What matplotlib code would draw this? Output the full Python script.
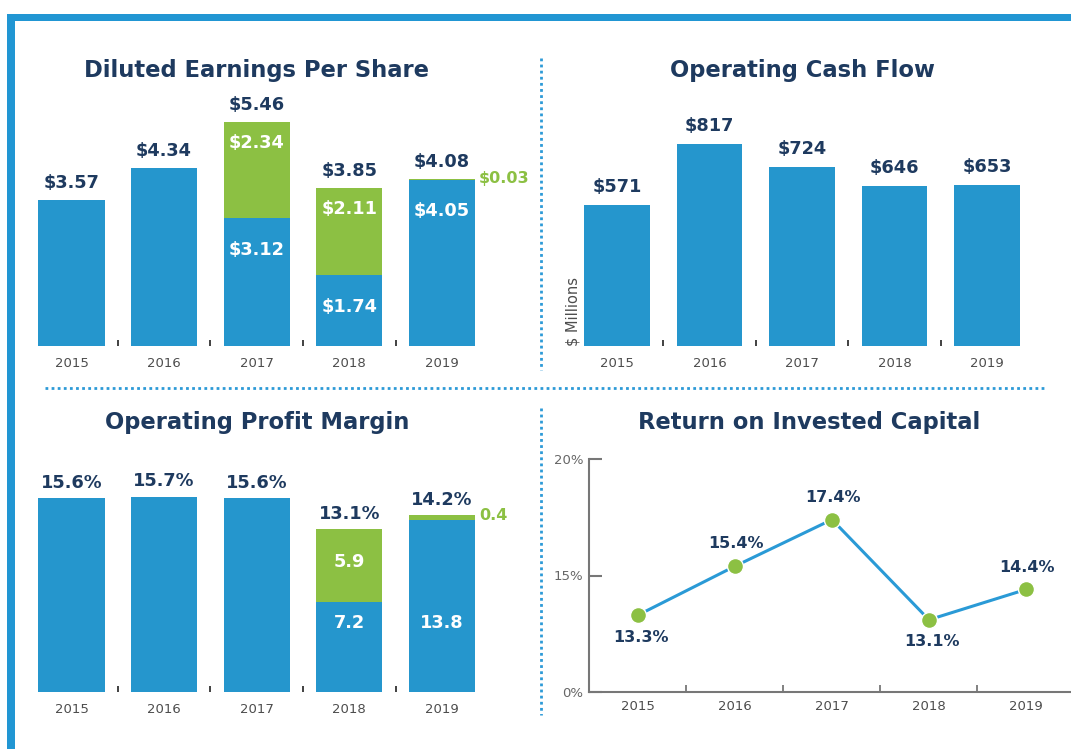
import matplotlib
matplotlib.use("Agg")
import matplotlib.pyplot as plt
from matplotlib.patches import Rectangle
from matplotlib.lines import Line2D
import numpy as np

# ---- data ----
years = ["2015", "2016", "2017", "2018", "2019"]

eps_base = [3.57, 4.34, 3.12, 1.74, 4.05]
eps_extra = [0.0, 0.0, 2.34, 2.11, 0.03]
eps_total = [3.57, 4.34, 5.46, 3.85, 4.08]

ocf = [571, 817, 724, 646, 653]

opm_base = [15.6, 15.7, 15.6, 7.2, 13.8]
opm_extra = [0.0, 0.0, 0.0, 5.9, 0.4]
opm_total = [15.6, 15.7, 15.6, 13.1, 14.2]

roic = [13.3, 15.4, 17.4, 13.1, 14.4]
roic_ticks = [10, 15, 20]
roic_tick_labels = ["0%", "15%", "20%"]

# ---- style ----
BLUE = "#2596CD"
GREEN = "#8CC043"
NAVY = "#1E3A5F"
GRAY = "#4D4D4D"
DOT = "#2D9AD7"
W, H = 1071, 749
TITLE_FS = 16.3
VAL_FS = 12.8

plt.rcParams["font.family"] = ["DejaVu Sans"]

fig = plt.figure(figsize=(W / 100, H / 100), dpi=100)
fig.patch.set_facecolor("white")


def px_axes(left, top, right, bottom):
    return fig.add_axes([left / W, 1 - bottom / H, (right - left) / W, (bottom - top) / H])


def fig_text(x, y, s, **kw):
    fig.text(x / W, 1 - y / H, s, **kw)


def dotted(x0, y0, x1, y1):
    fig.add_artist(Line2D([x0 / W, x1 / W], [1 - y0 / H, 1 - y1 / H], transform=fig.transFigure,
                          color=DOT, linewidth=2.0, linestyle=(0, (1, 1.2))))


def bar_axes(ax, ymax):
    x = np.arange(len(years))
    ax.set_xlim(-0.5, 4.5)
    ax.set_ylim(0, ymax)
    for s in ax.spines.values():
        s.set_visible(False)
    ax.set_yticks([])
    ax.set_xticks(x)
    ax.set_xticklabels(years, fontsize=9.5, color=GRAY)
    ax.tick_params(axis="x", which="major", length=0, pad=8)
    ax.set_xticks(x[:-1] + 0.5, minor=True)
    ax.tick_params(axis="x", which="minor", direction="in", length=4, width=1.3, color="#333333")
    ax.patch.set_alpha(0)
    return x


bar_w = 0.713

# ---- Diluted EPS ----
ax1 = px_axes(25.2, 100, 488.2, 346)
x = bar_axes(ax1, 6)
ax1.bar(x, eps_base, width=bar_w, color=BLUE)
ax1.bar(x, eps_extra, bottom=eps_base, width=bar_w, color=GREEN)
for i in range(len(years)):
    ax1.annotate(f"${eps_total[i]:.2f}", (x[i], eps_total[i]), xytext=(0, 12), textcoords="offset points",
                 ha="center", va="center", fontsize=VAL_FS, fontweight="bold", color=NAVY)
    if eps_extra[i] > 0.5:
        ax1.annotate(f"${eps_extra[i]:.2f}", (x[i], eps_total[i]), xytext=(0, -15), textcoords="offset points",
                     ha="center", va="center", fontsize=VAL_FS, fontweight="bold", color="white")
        ax1.annotate(f"${eps_base[i]:.2f}", (x[i], eps_base[i]), xytext=(0, -23), textcoords="offset points",
                     ha="center", va="center", fontsize=VAL_FS, fontweight="bold", color="white")
    elif eps_extra[i] > 0:
        ax1.annotate(f"${eps_extra[i]:.2f}", (x[i] + bar_w / 2, eps_total[i]), xytext=(3, 0),
                     textcoords="offset points", ha="left", va="center", fontsize=11.5,
                     fontweight="bold", color=GREEN)
        ax1.annotate(f"${eps_base[i]:.2f}", (x[i], eps_base[i]), xytext=(0, -22), textcoords="offset points",
                     ha="center", va="center", fontsize=VAL_FS, fontweight="bold", color="white")
fig_text(257, 70, "Diluted Earnings Per Share", ha="center", va="center", fontsize=TITLE_FS,
         fontweight="bold", color=NAVY)

# ---- Operating Cash Flow ----
ax2 = px_axes(570.75, 99, 1033.25, 346)
x = bar_axes(ax2, 1000)
ax2.bar(x, ocf, width=bar_w, color=BLUE)
for i in range(len(years)):
    ax2.annotate(f"${ocf[i]}", (x[i], ocf[i]), xytext=(0, 13), textcoords="offset points",
                 ha="center", va="center", fontsize=VAL_FS, fontweight="bold", color=NAVY)
fig_text(573, 346, "$ Millions", rotation=90, ha="center", va="bottom", fontsize=10.5, color=GRAY)
fig_text(802, 70, "Operating Cash Flow", ha="center", va="center", fontsize=TITLE_FS,
         fontweight="bold", color=NAVY)

# ---- Operating Profit Margin ----
ax3 = px_axes(25.2, 468, 488.2, 692)
x = bar_axes(ax3, 18)
ax3.bar(x, opm_base, width=bar_w, color=BLUE)
ax3.bar(x, opm_extra, bottom=opm_base, width=bar_w, color=GREEN)
for i in range(len(years)):
    ax3.annotate(f"{opm_total[i]:.1f}%", (x[i], opm_total[i]), xytext=(0, 11), textcoords="offset points",
                 ha="center", va="center", fontsize=VAL_FS, fontweight="bold", color=NAVY)
    if opm_extra[i] > 1:
        ax3.annotate(f"{opm_extra[i]:.1f}", (x[i], opm_total[i]), xytext=(0, -24), textcoords="offset points",
                     ha="center", va="center", fontsize=VAL_FS, fontweight="bold", color="white")
    elif opm_extra[i] > 0:
        ax3.annotate(f"{opm_extra[i]:.1f}", (x[i] + bar_w / 2, opm_total[i]), xytext=(3, 0),
                     textcoords="offset points", ha="left", va="center", fontsize=11.5,
                     fontweight="bold", color=GREEN)
    if opm_extra[i] > 0:
        ax3.text(x[i], 5.55, f"{opm_base[i]:.1f}", ha="center", va="center", fontsize=VAL_FS,
                 fontweight="bold", color="white")
fig_text(257, 423, "Operating Profit Margin", ha="center", va="center", fontsize=TITLE_FS,
         fontweight="bold", color=NAVY)

# ---- Return on Invested Capital ----
ax4 = px_axes(589, 459, 1070, 692)
x = np.arange(len(years))
ax4.plot(x, roic, color="#2A9AD6", linewidth=2.2, zorder=2)
ax4.plot(x, roic, linestyle="none", marker="o", markersize=11.5, color=GREEN,
         markeredgecolor="white", markeredgewidth=1.0, zorder=3)
below = {0, 3}
for i in range(len(years)):
    dy = -16 if i in below else 16
    ax4.annotate(f"{roic[i]:.1f}%", (x[i], roic[i]), xytext=(2 if i in below else 1, dy),
                 textcoords="offset points", ha="center", va="center", fontsize=11.5,
                 fontweight="bold", color=NAVY)
ax4.set_xlim(-0.505, 4.454)
ax4.set_ylim(10, 20)
ax4.spines["top"].set_visible(False)
ax4.spines["right"].set_visible(False)
for s in ("left", "bottom"):
    ax4.spines[s].set_color("#777777")
    ax4.spines[s].set_linewidth(1.5)
ax4.set_yticks(roic_ticks)
ax4.set_yticklabels(roic_tick_labels, fontsize=9.5, color="#666666")
ax4.tick_params(axis="y", direction="in", length=9, width=1.5, color="#777777", pad=4)
ax4.set_xticks(x)
ax4.set_xticklabels(years, fontsize=9.5, color=GRAY)
ax4.tick_params(axis="x", which="major", length=0, pad=6)
ax4.set_xticks(x[:-1] + 0.5, minor=True)
ax4.tick_params(axis="x", which="minor", direction="in", length=5, width=1.3, color="#777777")
ax4.patch.set_alpha(0)
fig_text(809, 423, "Return on Invested Capital", ha="center", va="center", fontsize=TITLE_FS,
         fontweight="bold", color=NAVY)

# ---- frame and dividers ----
fig.add_artist(Rectangle((7 / W, 1 - 21 / H), 1, 7 / H, transform=fig.transFigure,
                         color="#2196D3", linewidth=0))
fig.add_artist(Rectangle((7 / W, 0), 8 / W, 1 - 14 / H, transform=fig.transFigure,
                         color="#2196D3", linewidth=0))
dotted(541, 58, 541, 370)
dotted(45, 388, 1045, 388)
dotted(541, 408, 541, 715)

fig.savefig("out.png", dpi=100)
